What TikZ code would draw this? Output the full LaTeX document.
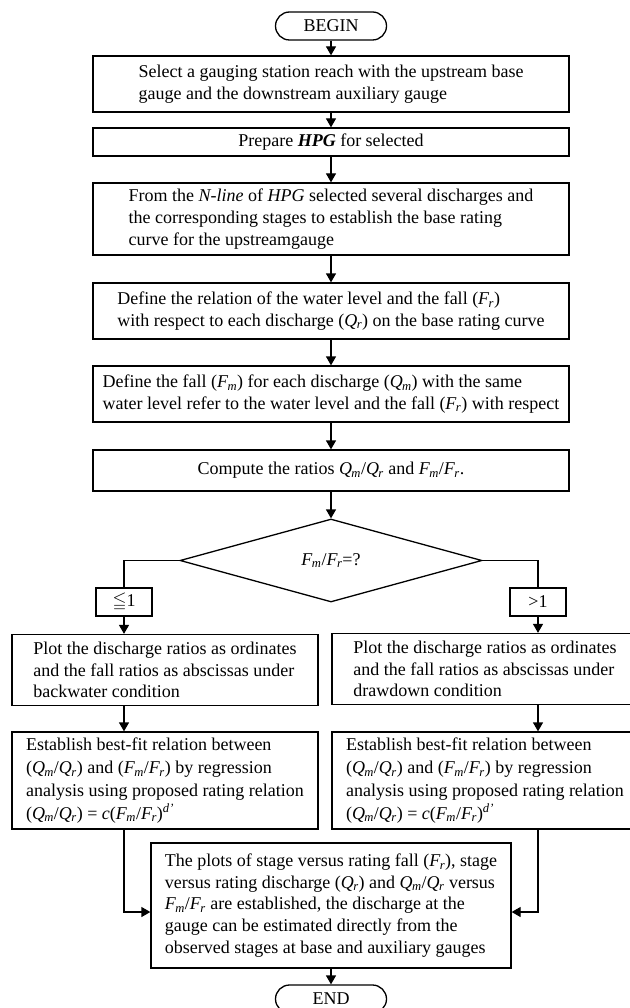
\documentclass[tikz,border=0pt]{standalone}
\usepackage{fontspec}
\usepackage{amssymb}
\setmainfont{Liberation Serif}
\usetikzlibrary{arrows.meta,shapes.geometric}
\newcommand\myv[2]{\textit{#1}\textsubscript{\kern-0.05em\textit{#2}}}
\begin{document}
\begin{tikzpicture}[x=1pt,y=-1pt,
  every node/.style={font=\fontsize{18}{21.7}\selectfont},
  box/.style={draw, line width=1.3pt, align=left, inner sep=0pt},
  term/.style={draw, line width=1.3pt, rounded corners=14pt, minimum width=111pt, minimum height=28pt, inner sep=0pt},
  dia/.style={draw, line width=1.3pt, diamond, aspect=3.64, minimum width=302pt, minimum height=83pt, inner sep=0pt},
  arr/.style={line width=1.3pt, -{Triangle[length=9pt,width=10pt]}},
  ln/.style={line width=1.3pt}]
\useasboundingbox (0,0) rectangle (629,1008);
\fill[white] (0,0) rectangle (629,1008);

\node[term] (begin) at (331,26) {BEGIN};
\node[box, minimum width=476pt, minimum height=56pt] (b1) at (331,84)
 {Select a gauging station reach with the upstream base\\gauge and the downstream auxiliary gauge};
\node[box, minimum width=476pt, minimum height=28pt] (b2) at (331,142)
 {Prepare \textbf{\textit{HPG}} for selected};
\node[box, minimum width=476pt, minimum height=72pt] (b3) at (331,219)
 {From the \textit{N-line} of \textit{HPG} selected several discharges and\\the corresponding stages to establish the base rating\\curve for the upstreamgauge};
\node[box, minimum width=476pt, minimum height=56pt] (b4) at (331,311)
 {Define the relation of the water level and the fall (\myv{F}{r})\\with respect to each discharge (\myv{Q}{r}) on the base rating curve};
\node[box, minimum width=476pt, minimum height=56pt] (b5) at (331,394)
 {Define the fall (\myv{F}{m}) for each discharge (\myv{Q}{m}) with the same\\water level refer to the water level and the fall (\myv{F}{r}) with respect};
\node[box, minimum width=476pt, minimum height=41pt] (b6) at (331,470.5)
 {Compute the ratios \myv{Q}{m}/\myv{Q}{r} and \myv{F}{m}/\myv{F}{r}.};
\node[dia] (dec) at (331,560.5) {\myv{F}{m}/\myv{F}{r}=?};

\node[box, minimum width=56pt, minimum height=28pt, align=center] (le) at (124,602) {$\leqq$1};
\node[box, minimum width=56pt, minimum height=28pt, align=center] (gt) at (538,602) {>1};

\node[box, minimum width=306pt, minimum height=71pt] (lp) at (165,670)
 {Plot the discharge ratios as ordinates\\and the fall ratios as abscissas under\\backwater condition};
\node[box, minimum width=306pt, minimum height=71pt] (rp) at (485,669)
 {Plot the discharge ratios as ordinates\\and the fall ratios as abscissas under\\drawdown condition};
\node[box, minimum width=306pt, minimum height=97pt, font=\fontsize{18}{22.8}\selectfont] (lr) at (165,780.5)
 {Establish best-fit relation between\\(\myv{Q}{m}/\myv{Q}{r}) and (\myv{F}{m}/\myv{F}{r}) by regression\\analysis using proposed rating relation\\(\myv{Q}{m}/\myv{Q}{r}) = \textit{c}(\myv{F}{m}/\myv{F}{r})\textsuperscript{\textit{d'}}};
\node[box, minimum width=306pt, minimum height=97pt, font=\fontsize{18}{22.8}\selectfont] (rr) at (485,780.5)
 {Establish best-fit relation between\\(\myv{Q}{m}/\myv{Q}{r}) and (\myv{F}{m}/\myv{F}{r}) by regression\\analysis using proposed rating relation\\(\myv{Q}{m}/\myv{Q}{r}) = \textit{c}(\myv{F}{m}/\myv{F}{r})\textsuperscript{\textit{d'}}};

\node[box, minimum width=360pt, minimum height=125pt] (fin) at (331,905.5)
 {The plots of stage versus rating fall (\myv{F}{r}), stage\\versus rating discharge (\myv{Q}{r}) and \myv{Q}{m}/\myv{Q}{r} versus\\\myv{F}{m}/\myv{F}{r} are established, the discharge at the\\gauge can be estimated directly from the\\observed stages at base and auxiliary gauges};
\node[term] (end) at (331,999) {END};

\coordinate (jy) at (0,912);

\draw[arr] (begin) -- (b1);
\draw[arr] (b1) -- (b2);
\draw[arr] (b2) -- (b3);
\draw[arr] (b3) -- (b4);
\draw[arr] (b4) -- (b5);
\draw[arr] (b5) -- (b6);
\draw[arr] (b6) -- (dec);
\draw[ln] (dec.west) -| (le.north);
\draw[ln] (dec.east) -| (gt.north);
\draw[arr] (le.south) -- (le.south |- lp.north);
\draw[arr] (gt.south) -- (gt.south |- rp.north);
\draw[arr] (le.south |- lp.south) -- (le.south |- lr.north);
\draw[arr] (gt.south |- rp.south) -- (gt.south |- rr.north);
\draw[arr] (le.south |- lr.south) |- (fin.west |- jy);
\draw[arr] (gt.south |- rr.south) |- (fin.east |- jy);
\draw[arr] (fin) -- (end);
\end{tikzpicture}
\end{document}
